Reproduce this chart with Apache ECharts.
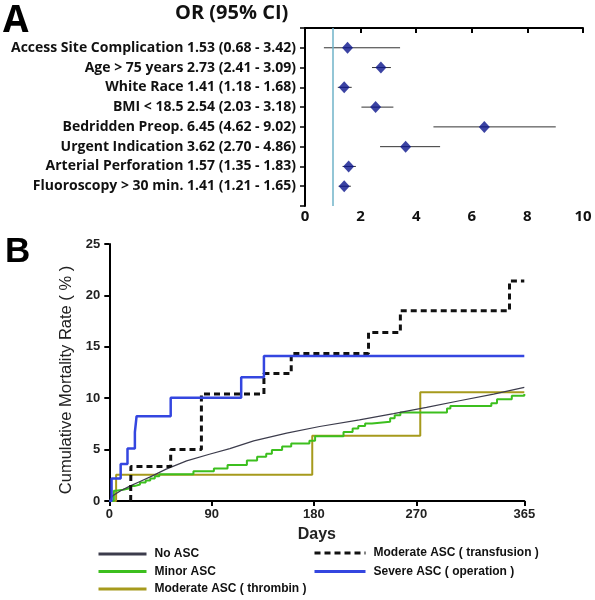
<!DOCTYPE html>
<html><head><meta charset="utf-8">
<script src="https://cdn.jsdelivr.net/npm/echarts@6/dist/echarts.min.js"></script>
<style>html,body{margin:0;padding:0;background:#fff}#c{width:595px;height:600px}</style>
</head><body><div id="c"></div>
<script>
// Panel A: forest plot
const factorNames = ["Access Site Complication","Age > 75 years","White Race","BMI < 18.5","Bedridden Preop.","Urgent Indication","Arterial Perforation","Fluoroscopy > 30 min."];
const orValues = [1.53,2.73,1.41,2.54,6.45,3.62,1.57,1.41];
const ciLow = [0.68,2.41,1.18,2.03,4.62,2.70,1.35,1.21];
const ciHigh = [3.42,3.09,1.68,3.18,9.02,4.86,1.83,1.65];
const orTicks = [0,2,4,6,8,10];

// Panel B: cumulative mortality (days, %)
const dayTicks = [0,90,180,270,365];
const noASC = [[0,0],[3,0.5],[10,1.0],[18,1.45],[27,1.9],[36,2.35],[50,3.1],[68,3.9],[88,4.55],[106,5.1],[127,5.85],[156,6.6],[185,7.25],[220,7.9],[250,8.5],[279,9.1],[308,9.75],[338,10.4],[365,11.05]];
const minorASC = [[0,0],[4,1.0],[6,1.1],[12,1.25],[18,1.45],[22,1.6],[27,1.8],[32,2.0],[36,2.2],[40,2.4],[44,2.6],[74,2.9],[92,3.15],[104,3.5],[121,3.95],[130,4.3],[138,4.6],[143,4.95],[152,5.3],[160,5.6],[176,5.85],[181,6.3],[206,6.7],[214,7.05],[219,7.3],[225,7.55],[231,7.7],[247,8.05],[251,8.35],[256,8.6],[297,9.0],[300,9.25],[336,9.5],[341,9.9],[354,10.25],[365,10.4]];
const thrombinASC = [[0,0],[6,2.55],[178.5,6.35],[273.5,10.57],[365,10.57]];
const transfusionASC = [[18.8,0],[19,3.35],[54,5.0],[81,10.4],[136,12.4],[160,14.35],[228,16.4],[256,18.5],[352,21.4],[365,21.4]];
const operationASC = [[0,0],[2,2.2],[10,3.6],[16,5.1],[22.5,6.7],[24,8.25],[54,10.05],[116,12.05],[136,14.1],[365,14.1]];

const forestLabels = factorNames.map((n,i)=>`${n} ${orValues[i].toFixed(2)} (${ciLow[i].toFixed(2)} - ${ciHigh[i].toFixed(2)})`);
const rowIdx = factorNames.map((_,i)=>i+1);

const chart = echarts.init(document.getElementById('c'), null, {renderer:'canvas'});
const fA = '"Open Sans", sans-serif';
const fB = '"Liberation Sans", Arial, sans-serif';
const legendCommon = {orient:'vertical', itemHeight:10, itemGap:5.5, padding:0,
  itemStyle:{opacity:0}, lineStyle:{width:3},
  textStyle:{fontFamily:fB, fontWeight:'bold', fontSize:12, lineHeight:12, color:'#111', padding:[0,0,0,3]}};
chart.setOption({
  animation:false,
  backgroundColor:'#fff',
  graphic:[
    {type:'text', left:3, top:3, style:{text:'A', font:'bold 37px '+fA, fill:'#000'}},
    {type:'text', left:175, top:3, style:{text:'OR (95% CI)', font:'bold 20px '+fA, fill:'#111'}},
    {type:'text', left:5, top:235, style:{text:'B', font:'bold 35px '+fB, fill:'#000'}},
    {type:'text', x:66, y:380, rotation:Math.PI/2,
     style:{text:'Cumulative Mortality Rate ( % )', font:'16.5px '+fB, fill:'#222', align:'center', verticalAlign:'middle'}}
  ],
  grid:[
    {left:305, top:28, width:278, height:178},
    {left:109.3, top:244, width:415, height:257}
  ],
  xAxis:[
    {gridIndex:0, type:'value', min:0, max:10, interval:2,
     axisLine:{lineStyle:{color:'#000', width:2}},
     axisTick:{show:true, length:5, lineStyle:{color:'#000', width:2}},
     axisLabel:{margin:3, color:'#111', fontFamily:fA, fontWeight:'bold', fontSize:15},
     splitLine:{show:false}},
    {gridIndex:1, type:'value', min:0, max:365,
     axisLine:{lineStyle:{color:'#000', width:2}},
     axisTick:{show:true, length:5, customValues:dayTicks, lineStyle:{color:'#000', width:2}},
     axisLabel:{customValues:dayTicks, margin:7, color:'#222', fontFamily:fB, fontWeight:'bold', fontSize:13},
     splitLine:{show:false},
     name:'Days', nameLocation:'middle', nameGap:26,
     nameTextStyle:{fontFamily:fB, fontWeight:'bold', fontSize:16, color:'#222'}}
  ],
  yAxis:[
    {gridIndex:0, type:'value', min:0, max:9, interval:1, inverse:true,
     axisLine:{show:true, lineStyle:{color:'#000', width:2}},
     axisTick:{show:true, length:5, lineStyle:{color:'#000', width:1.5}},
     axisLabel:{margin:9, color:'#111', fontFamily:fA, fontWeight:'bold', fontSize:14,
       formatter:v=>(v>=1&&v<=8)?forestLabels[v-1]:''},
     splitLine:{show:false}},
    {gridIndex:1, type:'value', min:0, max:25, interval:5,
     axisLine:{show:true, lineStyle:{color:'#000', width:2}},
     axisTick:{show:true, length:5, lineStyle:{color:'#000', width:2}},
     axisLabel:{margin:9, color:'#222', fontFamily:fB, fontWeight:'bold', fontSize:13},
     splitLine:{show:false}}
  ],
  legend:[
    Object.assign({}, legendCommon, {left:97, top:548, itemWidth:48,
     data:['No ASC','Minor ASC','Moderate ASC ( thrombin )']}),
    Object.assign({}, legendCommon, {left:313, top:547, itemWidth:51, itemGap:6.5,
     data:['Moderate ASC ( transfusion )','Severe ASC ( operation )']})
  ],
  series:[
    {type:'custom', xAxisIndex:0, yAxisIndex:0, silent:true,
     data:rowIdx.map((r,i)=>[ciLow[i], ciHigh[i], r]),
     renderItem:(params, api)=>{
       const a = api.coord([api.value(0), api.value(2)]);
       const b = api.coord([api.value(1), api.value(2)]);
       return {type:'line', shape:{x1:a[0], y1:a[1], x2:b[0], y2:b[1]}, style:{stroke:'#333', lineWidth:1}};
     },
     markLine:{silent:true, symbol:'none', label:{show:false},
       lineStyle:{color:'#6fb3c8', width:1.5, type:'solid'},
       data:[[{coord:[1,0]},{coord:[1,9]}]]}},
    {type:'scatter', xAxisIndex:0, yAxisIndex:0, symbol:'diamond', symbolSize:[11,12],
     itemStyle:{color:'#0a148c'},
     data:rowIdx.map((r,i)=>[orValues[i], r])},

    {name:'No ASC', type:'line', xAxisIndex:1, yAxisIndex:1, showSymbol:false, symbol:'none',
     data:noASC, lineStyle:{color:'#3c3c4c', width:1.2}, itemStyle:{color:'#000'}, z:5},
    {name:'Minor ASC', type:'line', step:'end', xAxisIndex:1, yAxisIndex:1, symbol:'none',
     data:minorASC, lineStyle:{color:'#3cbf1e', width:2}, itemStyle:{color:'#3cbf1e'}, z:4},
    {name:'Moderate ASC ( thrombin )', type:'line', step:'end', xAxisIndex:1, yAxisIndex:1, symbol:'none',
     data:thrombinASC, lineStyle:{color:'#a69a1c', width:2}, itemStyle:{color:'#a69a1c'}, z:3},
    {name:'Moderate ASC ( transfusion )', type:'line', step:'end', xAxisIndex:1, yAxisIndex:1, symbol:'none',
     data:transfusionASC, lineStyle:{color:'#111', width:3, type:[6,4]}, itemStyle:{color:'#111'}, z:6},
    {name:'Severe ASC ( operation )', type:'line', step:'end', xAxisIndex:1, yAxisIndex:1, symbol:'none',
     data:operationASC, lineStyle:{color:'#3446e0', width:2.5}, itemStyle:{color:'#3446e0'}, z:7}
  ]
});
</script></body></html>
